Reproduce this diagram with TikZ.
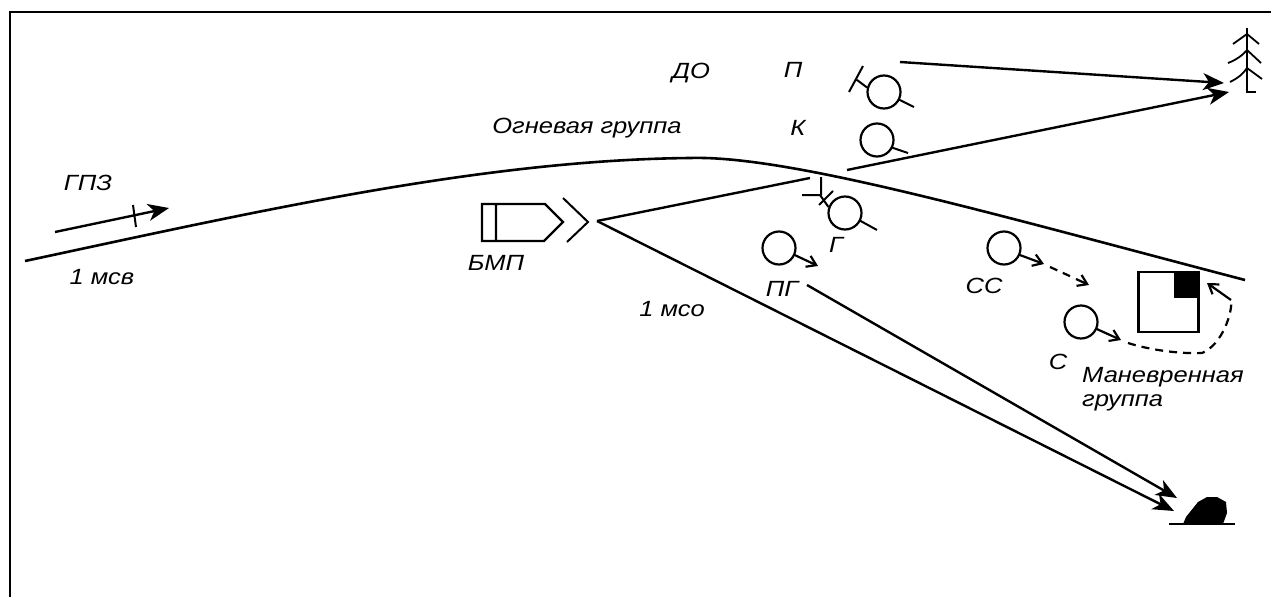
\documentclass[tikz,border=0pt]{standalone}
\usepackage{fontspec}
\setmainfont{Liberation Sans}[FakeStretch=1.16]
\usetikzlibrary{arrows.meta}
\tikzset{
	lab/.style={font=\fontsize{22}{26}\selectfont\itshape,inner sep=0pt},
	unit/.style={circle,draw,line width=2.2pt,minimum size=33pt,inner sep=0pt},
	ln/.style={line width=2pt},
	big/.style={line width=2.4pt,-{Stealth[length=21pt,width=17pt,inset=6pt]}},
	small/.style={line width=2.2pt,-{Straight Barb[length=9pt,width=12pt]}},
	dashline/.style={line width=2.2pt,dash pattern=on 8pt off 6pt}
}
\begin{document}
\begin{tikzpicture}[x=1pt,y=-1pt]
	\useasboundingbox (0,0) rectangle (1271,597);
	\draw[line width=2.6pt] (10,597)--(10,12);
	\draw[line width=2pt] (9,12)--(1271,12);
	% main line
	\coordinate (lineA) at (25,261);
	\coordinate (lineB) at (690,158);
	\coordinate (lineC) at (1245,280);
	\draw[line width=2.6pt] (lineA) .. controls (250,213) and (480,160) .. (lineB)
		.. controls (790,155) and (1000,216) .. (lineC);
	% units
	\node[unit] (unitP) at (884,92) {};
	\node[unit] (unitK) at (877,140) {};
	\node[unit] (unitG) at (845,213) {};
	\node[unit] (unitPG) at (779,248) {};
	\node[unit] (unitSS) at (1004,248) {};
	\node[unit] (unitS) at (1081,322) {};
	\coordinate (tailP) at (914,107);
	\coordinate (tailK) at (908,153);
	\coordinate (tailG) at (877,230);
	\coordinate (tipPG) at (818,266);
	\coordinate (tipSS) at (1044,264);
	\coordinate (tipS) at (1121,340);
	\draw[ln] (unitP)++(27:16.5)--(tailP) (unitK)++(27:16.5)--(tailK) (unitG)++(27:16.5)--(tailG);
	\draw[small] (unitPG)++(24:16.5)--(tipPG);
	\draw[small] (unitSS)++(24:16.5)--(tipSS);
	\draw[small] (unitS)++(24:16.5)--(tipS);
	% weapons
	\draw[ln] (unitP.165)--(857,80) (863,66)--(849,92);
	\draw[ln] (unitG.160)--(820,195) (802,195)--(820,195) (821,177)--(821,195) (833,191)--(819,205);
	% dashed routes
	\coordinate (dashSS) at (1050,267);
	\coordinate (endSS) at (1089,285);
	\coordinate (dashS) at (1128,343);
	\coordinate (endS) at (1207,283);
	\draw[dashline] (dashSS)--(1074,278);
	\draw[small] (1076,279)--(endSS);
	\draw[dashline] (dashS) .. controls (1150,350) and (1180,354) .. (1202,353)
		.. controls (1222,345) and (1233,312) .. (1231,300);
	\draw[small] (1231,300)--(endS);
	% square
	\node[draw,line width=2.6pt,minimum size=60pt,inner sep=0pt] (post) at (1168.5,302) {};
	\fill (1174,273) rectangle (1199,298);
	% bmp
	\coordinate (bmpTip) at (597,221);
	\draw[line width=2.4pt] (482,204)--(545,204)--(563,222)--(544,241)--(482,241)--cycle (496,204)--(496,241);
	\draw[ln] (563,198)--(588,222)--(567,242);
	\coordinate (fireEnd) at (810,178);
	\draw[line width=2.4pt] (bmpTip)--(fireEnd);
	% long arrows
	\coordinate (startP) at (900,62);
	\coordinate (startK) at (847,170);
	\coordinate (startPG) at (807,285);
	\coordinate (endP) at (1224,83);
	\coordinate (endK) at (1229,92);
	\coordinate (endB) at (1174,511);
	\coordinate (endPG) at (1177,498);
	\draw[big] (startP)--(endP);
	\draw[big] (startK)--(endK);
	\draw[big] (bmpTip)--(endB);
	\draw[big] (startPG)--(endPG);
	\coordinate (gpzA) at (55,232);
	\coordinate (gpzB) at (169,208);
	\draw[big] (gpzA)--(gpzB);
	\draw[ln] (133,205)--(136,227);
	% tree
	\draw[line width=1.8pt] (1247,28)--(1247,92)--(1256,92);
	\draw[line width=1.8pt] (1233,44)--(1247,34)--(1259,44) (1228,63) .. controls (1236,60) and (1243,55) .. (1247,50)--(1261,63)
		(1230,82) .. controls (1238,78) and (1243,74) .. (1247,68)--(1262,79);
	% hill
	\draw[line width=1.2pt] (1169,524)--(1235,524);
	\fill (1183,524)--(1186,517)--(1198,502)--(1207,497)--(1217,497)--(1226,502)--(1227,513)--(1223,524)--cycle;
	% labels
	\node[lab] (labGPZ) at (88,183) {ГПЗ};
	\node[lab] (labMsv) at (102,277) {1 мсв};
	\node[lab] (labBMP) at (496,263) {БМП};
	\node[lab] (labMso) at (672,309) {1 мсо};
	\node[lab] (labPG) at (782,289) {ПГ};
	\node[lab] (labDO) at (691,73) {ДО};
	\node[lab] (labP) at (793,70) {П};
	\node[lab] (labFire) at (587,128) {Огневая группа};
	\node[lab] (labK) at (798,128) {К};
	\node[lab] (labG) at (836,245) {Г};
	\node[lab] (labSS) at (984,286) {СС};
	\node[lab] (labS) at (1058,362) {С};
	\node[lab,anchor=west] (labMan) at (1082,377) {Маневренная};
	\node[lab,anchor=west] (labGroup) at (1082,403) {группа};
\end{tikzpicture}
\end{document}
